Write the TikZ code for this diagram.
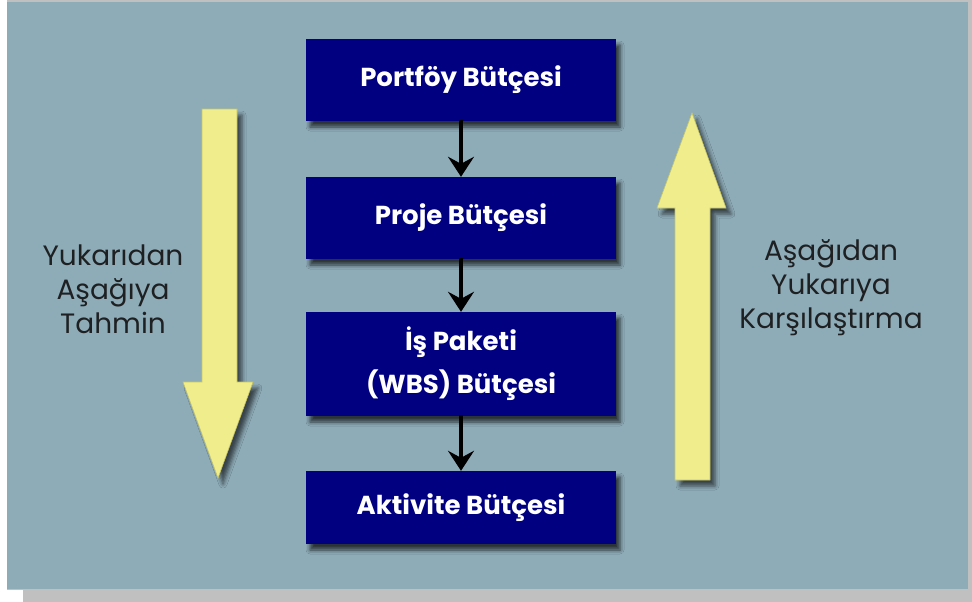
\documentclass[tikz,border=0pt]{standalone}
\usepackage{fontspec}
\setmainfont{Poppins}
\usetikzlibrary{arrows.meta,shadows.blur}
\definecolor{panel}{RGB}{142,172,184}
\definecolor{frame}{RGB}{192,192,192}
\definecolor{navy}{RGB}{0,0,128}
\definecolor{pale}{RGB}{240,238,140}
\definecolor{paleedge}{RGB}{200,196,100}
\definecolor{sidetext}{RGB}{30,32,34}
\tikzset{
  budget/.style={fill=navy, minimum width=310pt, text=white, align=center,
    font=\fontsize{26}{43}\selectfont\bfseries, inner sep=0pt,
    blur shadow={shadow xshift=4pt, shadow yshift=-6pt, shadow blur radius=4pt, shadow opacity=70}},
  link/.style={line width=4pt, -{Stealth[length=20pt,width=26pt,inset=7pt]},
    shorten <=-1pt},
  bigarrow/.style={fill=pale, draw=paleedge, line width=0.6pt,
    blur shadow={shadow xshift=5pt, shadow yshift=-6pt, shadow blur radius=4pt, shadow opacity=60}},
  sidelabel/.style={text=sidetext, align=center, font=\fontsize{28}{34}\selectfont, inner sep=0pt}
}
\begin{document}
\begin{tikzpicture}[x=1pt,y=-1pt]
\useasboundingbox (0,0) rectangle (972,602);
\fill[white] (0,0) rectangle (972,602);
\fill[frame] (7,0) rectangle (972,590);
\fill[frame] (23,589) rectangle (972,602);
\fill[panel] (7,2) rectangle (968,589);

\node[budget, minimum height=82pt] (b1) at (461,80) {Portföy Bütçesi};
\node[budget, minimum height=82pt] (b2) at (461,218) {Proje Bütçesi};
\node[budget, minimum height=104pt] (b3) at (461,364) {İş Paketi\\(WBS) Bütçesi};
\node[budget, minimum height=73pt] (b4) at (461,507.5) {Aktivite Bütçesi};

\draw[link] (b1) -- (b2);
\draw[link] (b2) -- (b3);
\draw[link] (b3) -- (b4);

\path[bigarrow] (202,109) -- (237,109) -- (237,382) -- (253,382) -- (218,478) -- (183,382) -- (202,382) -- cycle;
\path[bigarrow] (675,480) -- (710,480) -- (710,208) -- (726,208) -- (692,113) -- (657,208) -- (675,208) -- cycle;

\node[sidelabel] (left) at (113,289) {Yukarıdan\\Aşağıya\\Tahmin};
\node[sidelabel] (right) at (831,288) {Aşağıdan\\Yukarıya\\Karşılaştırma};
\end{tikzpicture}
\end{document}
